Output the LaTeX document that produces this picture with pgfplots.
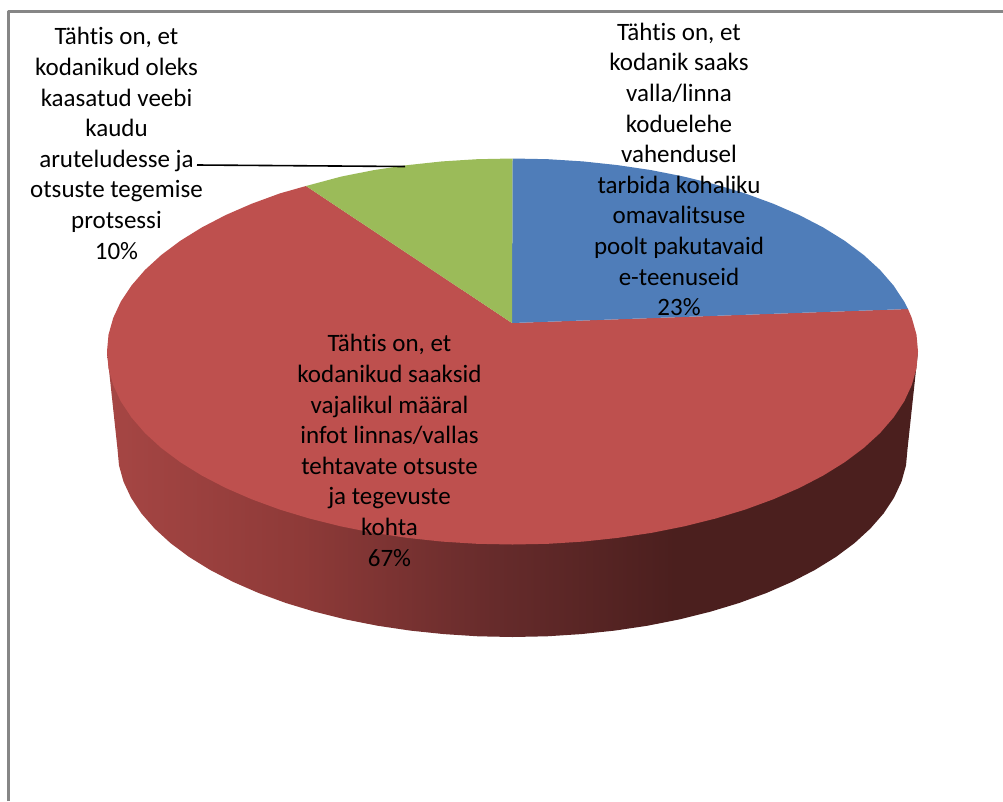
\documentclass[border=0pt]{standalone}
\usepackage{fontspec}
\setmainfont{Carlito}[Ligatures=CommonOff]
\usepackage{pgfplots}
\pgfplotsset{compat=1.18}
\definecolor{pieblue}{HTML}{4F7DB9}
\definecolor{piered}{HTML}{BE504E}
\definecolor{piegreen}{HTML}{9BBB59}
\definecolor{framegray}{HTML}{868686}
\definecolor{sideA}{HTML}{A64644}
\definecolor{sideB}{HTML}{8E3A38}
\definecolor{sideC}{HTML}{662B2B}
\definecolor{sideD}{HTML}{4B1F1E}
\pgfdeclarehorizontalshading{pieside}{100bp}{
  color(0bp)=(sideA);
  color(25bp)=(sideA);
  color(37bp)=(sideB);
  color(49bp)=(sideC);
  color(60bp)=(sideD);
  color(75bp)=(sideD);
  color(100bp)=(sideD)}
\begin{document}
\begin{tikzpicture}
\begin{axis}[
  scale only axis, width=1003pt, height=801pt,
  xmin=0, xmax=1003, ymin=0, ymax=801, y dir=reverse,
  hide axis, clip=true,
  every axis plot/.append style={line join=round}
]
% keep the whole canvas in the bounding box
\path (axis cs:0,0) rectangle (axis cs:1003,801);
% frame of the chart area
\addplot[framegray, line width=3pt] coordinates {(8.5,801) (8.5,11) (1003,11)};
% side of the pie (red slice): top-ellipse edge, then bottom-ellipse edge
\addplot[draw=none, shade, shading=pieside] coordinates {
 (107,351.5) (918,351.5)
 (907.5,449) (906,465.4) (901.5,481.6) (894,497.7) (883.7,513.3) (870.5,528.4)
 (854.6,543) (836.1,556.8) (815.1,569.8) (791.8,581.9) (766.4,593) (739.1,603)
 (710,611.8) (679.4,619.4) (647.6,625.7) (614.7,630.6) (581.1,634.1) (546.9,636.3)
 (512.5,637)
 (478.1,636.3) (443.9,634.1) (410.3,630.6) (377.4,625.7) (345.6,619.4) (315,611.8)
 (285.9,603) (258.6,593) (233.2,581.9) (209.9,569.8) (188.9,556.8) (170.4,543)
 (154.5,528.4) (141.3,513.3) (131,497.7) (123.5,481.6) (119,465.4) (117.5,449)
 (107,351.5)};
% top of red slice (67%)
\addplot[draw=none, fill=piered] coordinates {
 (512,323) (908,309) (911.8,318) (916.5,334.7) (918,351.5) (916.5,368.3) (911.8,385)
 (904.2,401.4) (893.5,417.5) (880,433.1) (863.7,448) (844.7,462.2) (823.1,475.6)
 (799.2,488) (773.2,499.3) (745.1,509.6) (715.3,518.6) (683.9,526.4) (651.2,532.9)
 (617.4,537.9) (582.9,541.6) (547.9,543.8) (512.5,544.5)
 (477.1,543.8) (442.1,541.6) (407.6,537.9) (373.8,532.9) (341.1,526.4) (309.7,518.6)
 (279.9,509.6) (251.8,499.3) (225.8,488) (201.9,475.6) (180.3,462.2) (161.3,448)
 (145,433.1) (131.5,417.5) (120.8,401.4) (113.2,385) (108.5,368.3) (107,351.5)
 (108.5,334.7) (113.2,318) (120.8,301.6) (131.5,285.5) (145,269.9) (161.3,255)
 (180.3,240.8) (201.9,227.4) (225.8,215) (251.8,203.7) (279.9,193.4) (306,186)
 (512,323)};
% blue slice (23%)
\addplot[draw=none, fill=pieblue] coordinates {
 (512,323) (512.5,158.5) (547.9,159.2) (582.9,161.4) (617.4,165.1) (651.2,170.1)
 (683.9,176.6) (715.3,184.4) (745.1,193.4) (773.2,203.7) (799.2,215) (823.1,227.4)
 (844.7,240.8) (863.7,255) (880,269.9) (893.5,285.5) (904.2,301.6) (908,309)
 (512,323)};
% green slice (10%)
\addplot[draw=none, fill=piegreen] coordinates {
 (512,323) (512.5,158.5) (477.1,159.2) (442.1,161.4) (407.6,165.1) (373.8,170.1)
 (341.1,176.6) (306,186) (512,323)};
% leader line
\addplot[black, line width=1.6pt] coordinates {(197,165) (405,166.5)};
% data labels
\node[align=center, font=\fontsize{25}{30.6}\selectfont, inner sep=0pt] at (axis cs:116.5,143.5)
 {Tähtis on, et\\kodanikud oleks\\kaasatud veebi\\kaudu\\aruteludesse ja\\otsuste tegemise\\protsessi\\10\%};
\node[align=center, font=\fontsize{25}{30.6}\selectfont, inner sep=0pt] at (axis cs:679,169.5)
 {Tähtis on, et\\kodanik saaks\\valla/linna\\koduelehe\\vahendusel\\tarbida kohaliku\\omavalitsuse\\poolt pakutavaid\\e-teenuseid\\23\%};
\node[align=center, font=\fontsize{25}{30.6}\selectfont, inner sep=0pt] at (axis cs:389.5,450.5)
 {Tähtis on, et\\kodanikud saaksid\\vajalikul määral\\infot linnas/vallas\\tehtavate otsuste\\ja tegevuste\\kohta\\67\%};
\end{axis}
\end{tikzpicture}
\end{document}
